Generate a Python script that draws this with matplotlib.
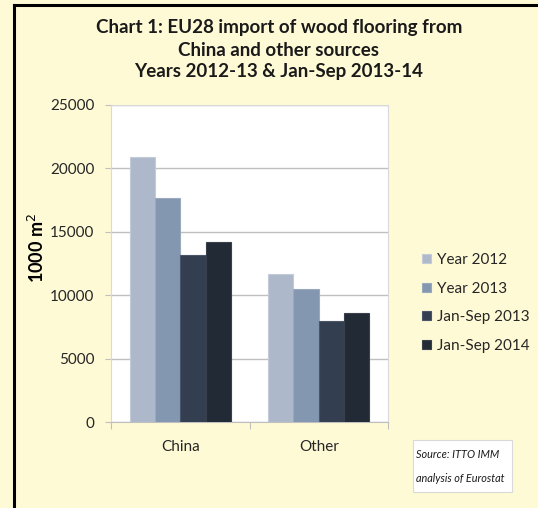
import matplotlib
matplotlib.use("Agg")
import matplotlib.pyplot as plt
import numpy as np
from matplotlib.lines import Line2D
from matplotlib.patches import Rectangle

categories = ["China", "Other"]
series_names = ["Year 2012", "Year 2013", "Jan-Sep 2013", "Jan-Sep 2014"]
year_2012 = [20900, 11700]
year_2013 = [17700, 10500]
jan_sep_2013 = [13200, 8000]
jan_sep_2014 = [14200, 8600]
yticks = [0, 5000, 10000, 15000, 20000, 25000]

series = [year_2012, year_2013, jan_sep_2013, jan_sep_2014]
colors = ["#adb9ca", "#8497b0", "#333f50", "#222a35"]
edges = ["#c3cbd8", "#9aa9bf", "#4a5568", "#39404b"]

plt.rcParams["font.family"] = ["Lato", "DejaVu Sans"]

W, H = 538, 508
fig = plt.figure(figsize=(W / 100, H / 100), dpi=100)
bg = "#fffad6"
fig.patch.set_facecolor(bg)

ax = fig.add_axes([111 / W, 1 - 422 / H, (388 - 111) / W, (422 - 105) / H])
ax.set_facecolor("white")

x = np.arange(len(categories))
bw = 0.183
for i, (vals, c, ec) in enumerate(zip(series, colors, edges)):
    ax.bar(x + (i - 1.5) * bw, vals, width=bw, color=c, edgecolor=ec,
           linewidth=0.8, label=series_names[i], zorder=3)

ax.set_xlim(-0.5, 1.5)
ax.set_ylim(0, 25000)
ax.set_yticks(yticks)
ax.set_yticklabels([str(v) for v in yticks], fontsize=11, color="#262626")
ax.yaxis.grid(True, color="#bfbfbf", linewidth=1, zorder=0)
ax.tick_params(axis="y", length=4, color="#bfbfbf", pad=8)

ax.set_xticks([-0.5, 0.5, 1.5])
ax.set_xticklabels([])
ax.tick_params(axis="x", length=5, color="#bfbfbf")
ax.set_xticks(x, minor=True)
ax.set_xticklabels(categories, minor=True, fontsize=11, color="#262626")
ax.tick_params(axis="x", which="minor", length=0, pad=13)

for s in ["top", "right", "left"]:
    ax.spines[s].set_color("#d9d9d9")
ax.spines["bottom"].set_color("#bfbfbf")

ax.set_ylabel("1000 m$^2$", fontsize=13, fontweight="bold")
ax.yaxis.set_label_coords((47 - 111) / 277, (422 - 248) / 317)

title_lines = ["Chart 1: EU28 import of wood flooring from",
               "China and other sources",
               "Years 2012-13 & Jan-Sep 2013-14"]
for k, line in enumerate(title_lines):
    fig.text(279 / W, 1 - (28 + 22 * k) / H, line,
             ha="center", va="center", fontsize=13.5, fontweight="bold", color="#1a1a1a")

leg = fig.legend(loc="upper left", bbox_to_anchor=(416 / W, 1 - 247 / H),
                 frameon=False, fontsize=11, handlelength=0.55, handleheight=0.55,
                 handletextpad=0.4, labelspacing=0.95, borderaxespad=0)
for t in leg.get_texts():
    t.set_color("#262626")

fig.add_artist(Rectangle((413 / W, 1 - 492 / H), 99 / W, 52 / H, transform=fig.transFigure,
                         facecolor="white", edgecolor="#d9d9d9", linewidth=0.8))
fig.text(416 / W, 1 - 455 / H, "Source: ITTO IMM", ha="left", va="center",
         fontsize=7.8, style="italic", color="#1a1a1a")
fig.text(416 / W, 1 - 478 / H, "analysis of Eurostat", ha="left", va="center",
         fontsize=7.8, style="italic", color="#1a1a1a")

fig.add_artist(Line2D([14 / W, 1], [1 - 5 / H, 1 - 5 / H], color="black", linewidth=2.2,
                      transform=fig.transFigure))
fig.add_artist(Line2D([14 / W, 14 / W], [0, 1 - 5 / H], color="black", linewidth=2.2,
                      transform=fig.transFigure))

fig.savefig("out.png", dpi=100, facecolor=fig.get_facecolor())
